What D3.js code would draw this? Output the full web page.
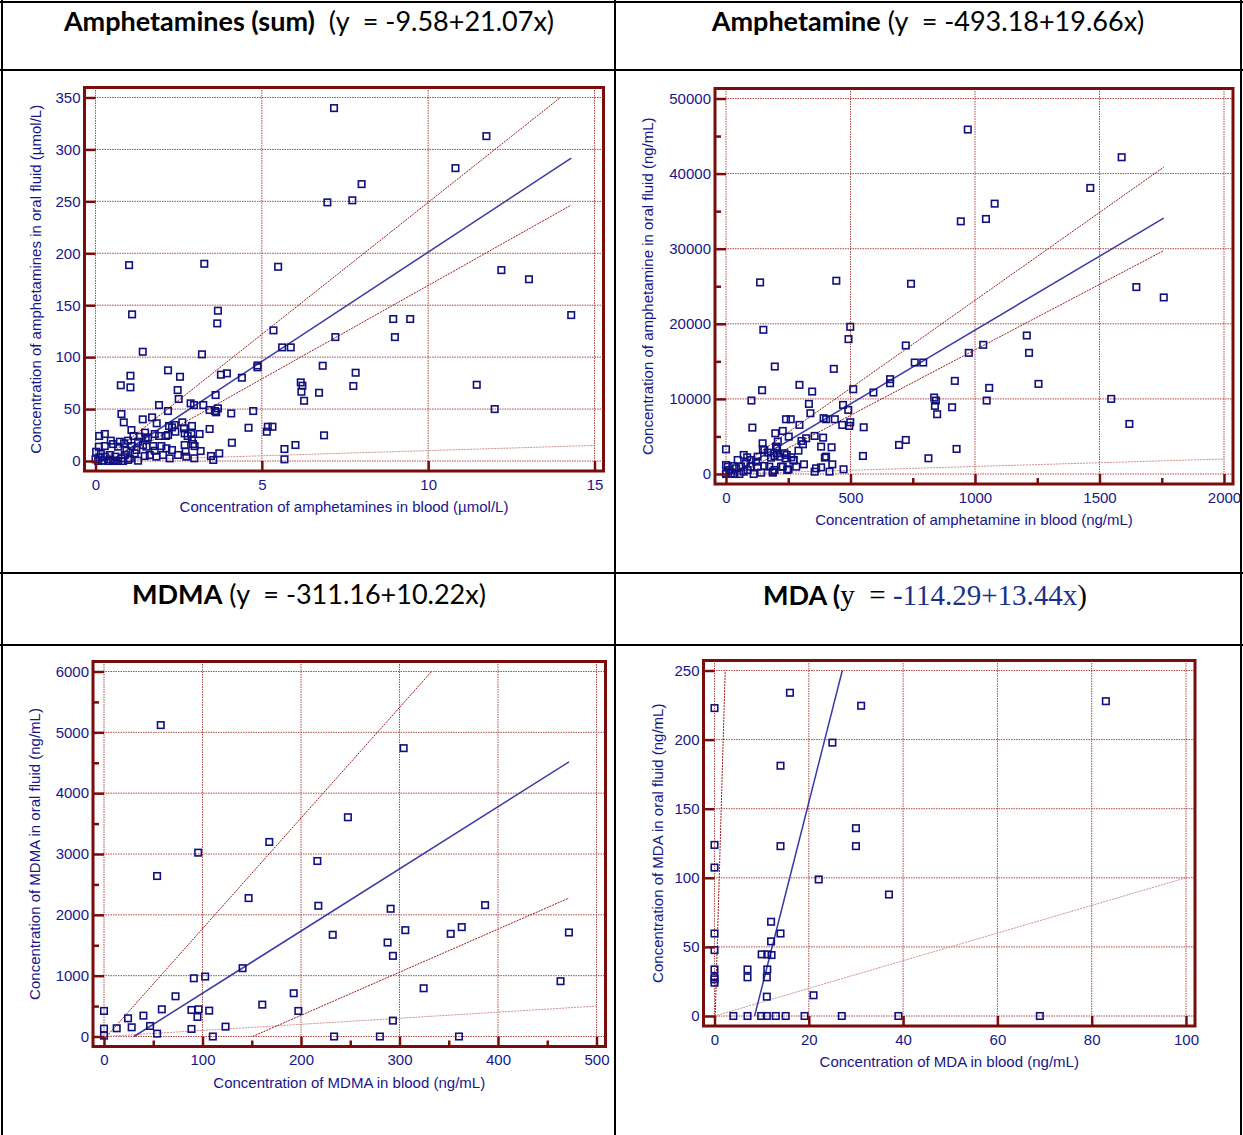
<!DOCTYPE html>
<html>
<head>
<meta charset="utf-8">
<script src="https://cdn.jsdelivr.net/npm/d3@7"></script>
<style>
  body { margin: 0; background: #fff; }
  text { font-family: "Liberation Sans", Arial, sans-serif; }
</style>
</head>
<body>
<script>
// ---------- data ----------
// [blood, oral fluid]
var sumPoints = [
  [7.17,339.8],[11.75,312.8],[10.82,282],[8.0,266.6],[6.97,249],[7.72,251],[1.01,188.6],[3.27,189.9],[5.49,187],
  [12.2,183.8],[13.03,175],[14.3,140.5],[1.10,141.2],[3.68,144.7],[3.66,132.5],[5.35,125.8],[5.61,109.4],[5.87,109.4],
  [7.21,119.3],[8.95,136.7],[9.46,136.7],[9.0,119.3],[1.42,105.2],[3.2,102.7],[6.83,91.7],[4.87,92],[4.87,90.2],
  [6.17,75.7],[6.22,72.5],[6.19,66.7],[6.27,58],[6.72,65.7],[1.05,82.1],[0.76,72.9],[1.05,70.9],[2.18,87.3],[2.54,81.1],
  [2.47,68.3],[2.5,59.7],[3.77,83.1],[3.95,84.4],[4.4,80.2],[3.61,63.5],[1.91,53.9],[2.18,48.1],[2.86,55.5],[2.96,53.9],
  [3.24,53.9],[3.43,49.1],[3.59,48.1],[3.63,46.9],[3.68,50.7],[4.08,45.8],[4.74,48.1],[0.78,45.2],[0.85,37.2],[1.08,29.8],
  [1.42,40.1],[1.7,42],[1.84,36.3],[0.11,24.1],[0.28,26],[4.6,32],[5.15,28.2],[5.18,33],[5.32,33],[6.87,24.7],[3.43,30.8],
  [4.1,17.6],[5.68,11.5],[5.68,1.6],[6.01,15.4],[3.72,7.4],[3.47,4.8],[3.54,1],[2.97,2.6],[3.16,9.6],
  [7.82,85],[7.75,72.2],[11.46,73.4],[12.0,50],
  [2.21,33.7],[2.3,32.4],[2.38,34.6],[2.61,37.2],[2.66,31.4],[2.9,33.7],[1.14,24.1],[1.33,23.4],[1.49,27.3],[1.51,21.8],
  [1.58,22.8],[1.78,26],[1.91,24.1],[2.12,24.1],[2.18,25],[2.4,28.2],[2.68,26.6],[2.77,24.1],[2.88,26],[2.9,20.8],[3.13,26],
  [0.02,8.9],[0.1,13.8],[0.16,6.7],[0.28,14.4],[0.46,19.6],[0.53,16.3],[0.68,13.8],[0.73,18.6],[0.86,17],[0.98,19.6],
  [0.93,9.9],[1.08,14.4],[1.23,10.6],[1.28,18.6],[1.43,15.4],[1.53,13.8],[1.73,14.4],[1.78,9.9],[1.98,14.4],[2.13,12.2],
  [2.3,10.6],[2.68,15.4],[2.71,9],[2.93,16.3],[2.98,14.4],
  [0,1.6],[0.13,3.5],[0.28,4.2],[0.43,5.8],[0.6,4.2],[0.78,2.5],[0.88,5.8],[1.03,2.5],[1.18,7.4],[1.28,0.3],[1.48,4.8],
  [1.63,5.8],[1.83,4.2],[2.03,5.8],[2.23,2.5],[2.48,5.8],[2.73,4.2],
  [0.08,0],[0.23,0.3],[0.38,0],[0.53,0],[0.68,0],[0.83,0],[0.98,1],[0.58,0.3],[0.45,1.5],[0.2,0.5]
];
var amphPoints = [
  [971,45867],[943,33644],[137,25512],[443,25735],[743,25333],[150,19200],[499,19600],[492,17960],[722,17114],[196,14311],
  [433,14000],[758,14844],[792,14844],[975,16133],[659,12627],[659,12089],[919,12400],[592,10850],[511,11289],[295,11867],
  [346,10978],[145,11156],[102,9782],[333,9333],[339,8089],[836,10182],[843,9782],[839,9071],[848,7960],[908,8889],
  [470,9200],[491,8533],[241,7290],[260,7290],[392,7430],[402,7290],[437,7290],[467,6537],[495,6400],[499,6889],
  [295,6537],[106,6178],[553,6222],[198,5422],[228,5733],[252,4978],[356,5067],[322,4756],[303,4400],[309,3960],
  [390,4844],[382,3644],[397,2182],[402,2311],[424,3556],[427,1289],[550,2400],[722,4533],[695,3870],[813,2093],
  [926,3333],[472,629],[416,311],[147,4089],[154,3200],[201,3644],[204,2756],[244,2533],[272,1867],[251,629],
  [282,978],[313,1289],[291,3111],[188,178],[228,978],[0,3289],
  [1589,42178],[1463,38089],[1079,36000],[1044,33956],[1648,24889],[1758,23511],[1208,18444],[1033,17200],[1217,16133],
  [1255,12000],[1057,11467],[1047,9778],[1547,10000],[1620,6667],
  [127,2311],[168,2844],[181,2178],[195,2400],[215,2311],[235,2756],[239,2089],[262,2222],[271,1778],[382,889],
  [0,1200],[27,1067],[47,1867],[71,2533],[85,2222],[101,1867],[121,1644],[98,978],[127,978],[154,1067],[174,978],
  [195,533],[221,978],[246,533],[356,311],[362,756],[0,89],[20,89],[34,0],[54,0],[71,311],[87,533],[111,0],[141,178],
  [188,311],[0,0],[13,533],[40,756],[60,978],[80,1422],[7,978],[208,4311],[148,3289],[205,3422]
];
var mdmaPoints = [
  [57.6,5119],[95.6,3022],[53.9,2638],[167.8,3198],[216.6,2885],[146.8,2275],[217.6,2149],[232.2,1672],[140.7,1123],
  [91.2,957],[102.7,985],[72.6,661],[192.6,711],[160.7,524],[197.3,420],[0,420],[58.7,447],[88.8,436],[96,447],
  [106.8,425],[94.9,321],[40,343],[24.4,299],[46.8,173],[28.1,151],[12.9,135],[0,129],[0,14],[53.9,47],[88.8,124],
  [123.4,162],[110.5,0],[233.6,0],[247.6,3604],[304.2,4740],[291,2100],[386.9,2160],[305.9,1748],[363.2,1798],
  [352,1688],[472,1710],[287.9,1545],[293.3,1326],[463.5,909],[324.5,793],[293.3,261],[280.1,0],[360.4,0]
];
var mdaPoints = [
  [0,222.8],[16,233.9],[31.1,224.5],[25,197.8],[14,181.1],[30,135.9],[30,122.9],[14,122.9],[0,123.8],[0,107.4],
  [22.1,98.8],[37,87.9],[12,68.2],[14,59.7],[0,59.7],[12,54],[0,47.7],[10,44.6],[11.2,44.6],[12.1,44.1],[11.2,33.7],
  [0,33.7],[7,33.7],[7,28],[0,28],[11.1,28],[0,24.1],[0,26.5],[11.1,14],[21,15],[4,0],[7,0],[9.9,0],[11.1,0],[13,0],
  [15.1,0],[19.1,0],[27,0],[39,0],[83,227.8],[69,0]
];

// [intercept, slope]
var sumFit = [-9.58, 21.07], sumUpper = [-5, 25.4], sumLower = [-11, 18];
var amphFit = [-493.18, 19.66], amphUpper = [-280, 23.4], amphLower = [-900, 17.43];
var mdmaFit = [-311.16, 10.22], mdmaUpper = [-46, 18.18], mdmaLower = [-1069, 7.085];
var mdaFit = [-114.29, 13.44], mdaUpper = [-18, 118];

var sumXTicks = [0, 5, 10, 15], sumYTicks = [0, 50, 100, 150, 200, 250, 300, 350];
var amphXTicks = [0, 500, 1000, 1500, 2000], amphYTicks = [0, 10000, 20000, 30000, 40000, 50000];
var amphXMinor = [250, 750, 1250, 1750], amphYMinor = [5000, 15000, 25000, 35000, 45000];
var mdmaXTicks = [0, 100, 200, 300, 400, 500], mdmaYTicks = [0, 1000, 2000, 3000, 4000, 5000, 6000];
var mdmaXMinor = [50, 150, 250, 350, 450], mdmaYMinor = [500, 1500, 2500, 3500, 4500, 5500];
var mdaXTicks = [0, 20, 40, 60, 80, 100], mdaYTicks = [0, 50, 100, 150, 200, 250];

// ---------- drawing ----------
var width = 1243, height = 1135;
var svg = d3.select("body").append("svg").attr("width", width).attr("height", height);

var frameColor = "#7b0c0c", gridColor = "#b04848", textColor = "#16168a";

// table
svg.append("g").selectAll("line")
  .data([[2, 0, 2, height], [615, 0, 615, height], [1241, 0, 1241, height],
         [0, 2, width, 2], [0, 70, width, 70], [0, 573, width, 573], [0, 645, width, 645]])
  .join("line")
  .attr("x1", d => d[0]).attr("y1", d => d[1]).attr("x2", d => d[2]).attr("y2", d => d[3])
  .attr("stroke", "#000").attr("stroke-width", 2);

// titles
var titles = [
  { cx: 309, y: 31, parts: [["Amphetamines (sum)", "bold"], ["  (y  = -9.58+21.07x)", "normal"]] },
  { cx: 928, y: 31, parts: [["Amphetamine", "bold"], [" (y  = -493.18+19.66x)", "normal"]] },
  { cx: 309, y: 604, parts: [["MDMA", "bold"], [" (y  = -311.16+10.22x)", "normal"]] }
];
titles.forEach(function(t) {
  var tx = svg.append("text").attr("x", t.cx).attr("y", t.y).attr("text-anchor", "middle")
    .style("white-space", "pre").style("font-family", "Lato, 'Open Sans', sans-serif")
    .style("font-size", "27px").attr("fill", "#000");
  t.parts.forEach(function(p) {
    tx.append("tspan").text(p[0]).style("font-weight", p[1]);
  });
});
var mdaTitle = svg.append("text").attr("x", 925).attr("y", 605).attr("text-anchor", "middle")
  .style("white-space", "pre").style("font-size", "29px");
mdaTitle.append("tspan").text("MDA (").style("font-family", "Lato, sans-serif").style("font-weight", "bold")
  .style("font-size", "27px");
mdaTitle.append("tspan").text("y  = ").style("font-family", "'Liberation Serif', serif");
mdaTitle.append("tspan").text("-114.29+13.44x").style("font-family", "'Liberation Serif', serif").attr("fill", "#1c2f8c");
mdaTitle.append("tspan").text(")").style("font-family", "'Liberation Serif', serif");

var panels = [
  { points: sumPoints, fit: sumFit, bands: [sumUpper, sumLower], xTicks: sumXTicks, yTicks: sumYTicks,
    xMinor: [], yMinor: [], frame: { l: 84.5, t: 87.5, r: 603.5, b: 471 }, yLabOff: 49,
    xLabel: "Concentration of amphetamines in blood (\u00b5mol/L)",
    yLabel: "Concentration of amphetamines in oral fluid (\u00b5mol/L)" },
  { points: amphPoints, fit: amphFit, bands: [amphUpper, amphLower], xTicks: amphXTicks, yTicks: amphYTicks,
    xMinor: amphXMinor, yMinor: amphYMinor, frame: { l: 715, t: 88.5, r: 1233, b: 484 }, yLabOff: 67,
    xLabel: "Concentration of amphetamine in blood (ng/mL)",
    yLabel: "Concentration of amphetamine in oral fluid (ng/mL)" },
  { points: mdmaPoints, fit: mdmaFit, bands: [mdmaUpper, mdmaLower], xTicks: mdmaXTicks, yTicks: mdmaYTicks,
    xMinor: mdmaXMinor, yMinor: mdmaYMinor, frame: { l: 93, t: 661.5, r: 605.5, b: 1046.5 }, yLabOff: 58,
    xLabel: "Concentration of MDMA in blood (ng/mL)",
    yLabel: "Concentration of MDMA in oral fluid (ng/mL)" },
  { points: mdaPoints, fit: mdaFit, bands: [mdaUpper], xTicks: mdaXTicks, yTicks: mdaYTicks,
    xMinor: [], yMinor: [], frame: { l: 703.5, t: 660.5, r: 1195, b: 1026 }, yLabOff: 46,
    xLabel: "Concentration of MDA in blood (ng/mL)",
    yLabel: "Concentration of MDA in oral fluid (ng/mL)" }
];

var pad = { l: 11, r: 9, t: 10, b: 10 };

panels.forEach(function(p) {
  var f = p.frame;
  var xMax = d3.max(p.xTicks), yMax = d3.max(p.yTicks);
  var x = d3.scaleLinear().domain([0, xMax]).range([f.l + pad.l, f.r - pad.r]);
  var y = d3.scaleLinear().domain([0, yMax]).range([f.b - pad.b, f.t + pad.t]);
  var g = svg.append("g");

  // grid
  g.append("g").selectAll("line").data(p.yTicks).join("line")
    .attr("x1", f.l).attr("x2", f.r).attr("y1", d => y(d)).attr("y2", d => y(d))
    .attr("stroke", gridColor).attr("stroke-width", 1).attr("stroke-dasharray", "1.5,1");
  g.append("g").selectAll("line").data(p.xTicks).join("line")
    .attr("y1", f.t).attr("y2", f.b).attr("x1", d => x(d)).attr("x2", d => x(d))
    .attr("stroke", gridColor).attr("stroke-width", 1).attr("stroke-dasharray", "1.5,1");

  // line segment of y = a + b*x kept inside 0..yMax and 0..xEnd
  function segment(c, xEnd) {
    var lo = 0, hi = xEnd;
    var x0 = (0 - c[0]) / c[1], x1 = (yMax - c[0]) / c[1];
    lo = Math.max(lo, Math.min(x0, x1));
    hi = Math.min(hi, Math.max(x0, x1));
    return [[lo, c[0] + c[1] * lo], [hi, c[0] + c[1] * hi]];
  }
  var line = d3.line().x(d => x(d[0])).y(d => y(d[1]));
  var dataXMax = d3.max(p.points, d => d[0]);

  // identity line
  g.append("path").datum(segment([0, 1], xMax)).attr("d", line)
    .attr("fill", "none").attr("stroke", "#d09090").attr("stroke-width", 1).attr("stroke-dasharray", "2,1");
  // bands
  g.append("g").selectAll("path").data(p.bands.map(c => segment(c, dataXMax))).join("path")
    .attr("d", line).attr("fill", "none").attr("stroke", "#9c1a1a").attr("stroke-width", 1)
    .attr("stroke-dasharray", "2,1");
  // regression
  g.append("path").datum(segment(p.fit, dataXMax)).attr("d", line)
    .attr("fill", "none").attr("stroke", "#3a3aa6").attr("stroke-width", 1.5);

  // points
  g.append("g").selectAll("rect").data(p.points).join("rect")
    .attr("x", d => x(d[0]) - 3.25).attr("y", d => y(d[1]) - 3.25)
    .attr("width", 6.5).attr("height", 6.5)
    .attr("fill", "none").attr("stroke", "#10107e").attr("stroke-width", 1.6);

  // axes (ticks point inward, labels outside)
  g.append("g").attr("transform", "translate(0," + f.b + ")")
    .call(d3.axisBottom(x).tickValues(p.xTicks).tickSize(-pad.b).tickPadding(8).tickFormat(d3.format("d")));
  g.append("g").attr("transform", "translate(" + f.l + ",0)")
    .call(d3.axisLeft(y).tickValues(p.yTicks).tickSize(-pad.l).tickPadding(4).tickFormat(d3.format("d")));
  if (p.xMinor.length) {
    g.append("g").attr("transform", "translate(0," + f.b + ")")
      .call(d3.axisBottom(x).tickValues(p.xMinor).tickSize(-6).tickFormat(""));
    g.append("g").attr("transform", "translate(" + f.l + ",0)")
      .call(d3.axisLeft(y).tickValues(p.yMinor).tickSize(-6).tickFormat(""));
  }
  g.selectAll(".domain").remove();
  g.selectAll(".tick line").attr("stroke", frameColor).attr("stroke-width", 2.5);
  g.selectAll(".tick text").attr("fill", textColor).style("font-size", "15px")
    .style("font-family", "'Liberation Sans', Arial, sans-serif");

  // frame
  g.append("rect").attr("x", f.l).attr("y", f.t).attr("width", f.r - f.l).attr("height", f.b - f.t)
    .attr("fill", "none").attr("stroke", frameColor).attr("stroke-width", 3);

  // axis titles
  g.append("text").attr("x", (f.l + f.r) / 2).attr("y", f.b + 41).attr("text-anchor", "middle")
    .attr("fill", textColor).style("font-size", "15px").text(p.xLabel);
  g.append("text").attr("transform", "translate(" + (f.l - p.yLabOff) + "," + (f.t + f.b) / 2 + ") rotate(-90)")
    .attr("text-anchor", "middle").attr("dy", "0.35em")
    .attr("fill", textColor).style("font-size", "15px").text(p.yLabel);
});
</script>
</body>
</html>
